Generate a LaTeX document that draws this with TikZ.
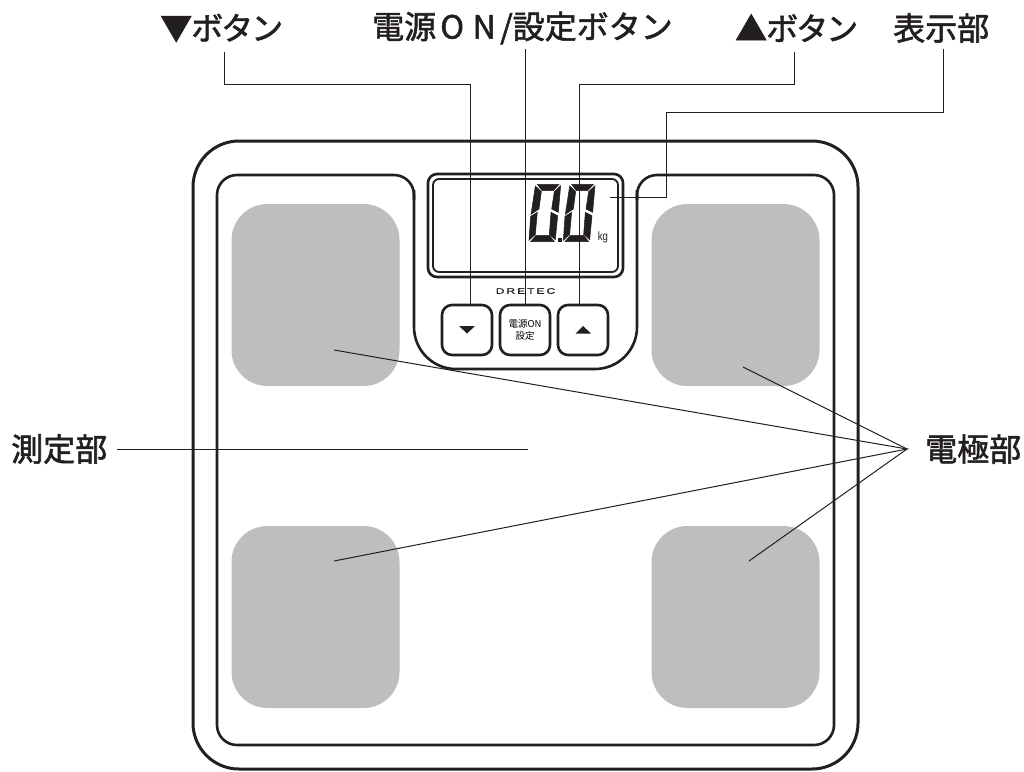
\documentclass[tikz,border=0pt]{standalone}
\usepackage{fontspec}
\newfontfamily\cjk[FakeBold=1.7]{Noto Sans CJK JP}
\newfontfamily\cjkthin{Noto Sans CJK JP}
\newfontfamily\brand[FakeStretch=1.5,LetterSpace=25,FakeBold=0.6]{Liberation Sans}
\newfontfamily\unitfont[FakeStretch=0.8]{Liberation Sans}
\definecolor{ink}{HTML}{231F20}
\definecolor{pad}{HTML}{BCBEC0}
\newcommand{\lcdzero}{%
  \filldraw (52,28) -- (117,28) -- (100,47) -- (66,47) -- cycle;
  \filldraw (46,33) -- (64,50) -- (57,102) -- (33,118) -- cycle;
  \filldraw (122,32) -- (115,112) -- (95,102) -- (103,50) -- cycle;
  \filldraw (32,124) -- (52,112) -- (46,178) -- (27,196) -- cycle;
  \filldraw (113,122) -- (106,194) -- (88,178) -- (93,112) -- cycle;
  \filldraw (32,200) -- (48,181) -- (88,181) -- (103,200) -- cycle;
}
\tikzset{
  x=1pt,y=-1pt,
  casing/.style={draw=ink,line width=3pt,rounded corners=46pt},
  panel/.style={draw=ink,line width=2.6pt,rounded corners=20pt},
  padbox/.style={fill=pad,draw=none,rounded corners=36pt,minimum width=168pt,minimum height=182pt,inner sep=0pt},
  btn/.style={draw=ink,line width=2.6pt,rounded corners=10pt,minimum width=50pt,minimum height=50pt,inner sep=0pt,align=center},
  leader/.style={draw=ink,line width=1pt},
  label/.style={inner sep=0pt,text=ink,font=\fontsize{32}{32}\cjk},
}
\begin{document}
\begin{tikzpicture}
\useasboundingbox (0,0) rectangle (1024,771);
\fill[white] (0,0) rectangle (1024,771);
\draw[casing] (193,141) rectangle (858,769);
% panel with notch
\draw[panel] (414,200) -- (414,175) -- (217,175) -- (217,745) -- (834,745) -- (834,175) -- (637,175) -- (637,200);
\draw[draw=ink,line width=2.6pt,rounded corners=42pt] (414,190) -- (414,369) -- (637,369) -- (637,190);
\node[padbox] (padA) at (315.5,295) {};
\node[padbox] (padB) at (735.5,295) {};
\node[padbox] (padC) at (315.5,617) {};
\node[padbox] (padD) at (735.5,617) {};
% display
\node[draw=ink,line width=2.6pt,rounded corners=9pt,minimum width=195pt,minimum height=103pt,inner sep=0pt] (lcdOuter) at (525.5,225.5) {};
\node[draw=ink,line width=1.8pt,rounded corners=6pt,minimum width=185pt,minimum height=93pt,inner sep=0pt] (lcdInner) at (525.5,225.5) {};
\begin{scope}[shift={(520,175)},x=0.3333pt,y=-0.3333pt,draw=ink,fill=ink,line width=0.5pt]
  \lcdzero
  \begin{scope}[shift={(103,0)}] \lcdzero \end{scope}
  \fill (114,188) rectangle (127,201);
\end{scope}
\node[inner sep=0pt,text=ink,font=\fontsize{12}{12}\unitfont] (kg) at (603,237) {kg};
\node[inner sep=0pt,text=ink,font=\fontsize{8}{8}\brand] (brand) at (525.5,291) {DRETEC};
% buttons
\node[btn] (btnDown) at (467,330) {};
\node[btn,font=\fontsize{9.5}{12}\cjkthin] (btnPower) at (525,330) {電源ON\\設定};
\node[btn] (btnUp) at (583,330) {};
\fill[ink] (459,326) -- (475,326) -- (467,333.5) -- cycle;
\fill[ink] (575.5,333.5) -- (591,333.5) -- (583,326) -- cycle;
% labels
\node[label,anchor=west] (lDown) at (160,28) {▼\kern-1pt ボ\kern-2pt タ\kern-2pt ン};
\node[label,anchor=west] (lPower) at (372,28) {電源\makebox[32pt]{O}\makebox[32pt]{N}/設定ボタン};
\node[label,anchor=west] (lUp) at (735,28) {▲\kern-1pt ボ\kern-2pt タ\kern-2pt ン};
\node[label,anchor=west] (lDisp) at (893,28) {表示部};
\node[label,anchor=west] (lMeasure) at (11,449) {測定部};
\node[label,anchor=west] (lElec) at (925,449) {電極部};
% leaders
\coordinate (pDown) at (224,52);
\coordinate (pPower) at (525,49);
\coordinate (pUp) at (794,52);
\coordinate (pDisp) at (943,49);
\coordinate (dispEnd) at (610,197);
\coordinate (mEnd) at (528,449);
\coordinate (mStart) at (117,449);
\coordinate (apex) at (907,449);
\coordinate (eA) at (334,350);
\coordinate (eB) at (743,367);
\coordinate (eC) at (334,561);
\coordinate (eD) at (749,561);
\draw[leader] (pDown) |- (470,84) -- (470,305);
\draw[leader] (pPower) -- (btnPower.north);
\draw[leader] (pUp) |- (579,84) -- (579,305);
\draw[leader] (pDisp) |- (666,112) |- (dispEnd);
\draw[leader] (mStart) -- (mEnd);
\draw[leader] (eA) -- (apex) -- (eC);
\draw[leader] (eB) -- (apex) -- (eD);
\end{tikzpicture}
\end{document}
